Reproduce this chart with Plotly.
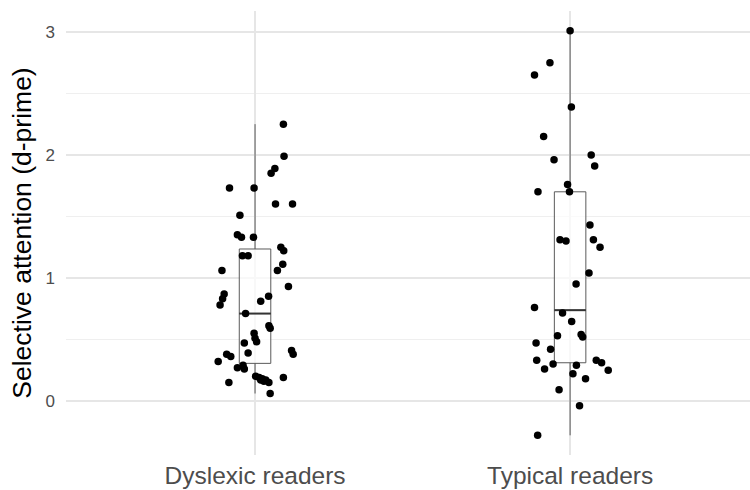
import plotly.graph_objects as go
import numpy as np

# Group labels
groups = ["Dyslexic readers", "Typical readers"]

# Selective attention scores (d-prime), one per participant
dyslexic_dprime = [2.25, 1.99, 1.89, 1.85, 1.73, 1.73, 1.60, 1.60, 1.51, 1.35,
                   1.33, 1.33, 1.25, 1.22, 1.18, 1.18, 1.11, 1.06, 1.06, 0.93,
                   0.87, 0.83, 0.78, 0.81, 0.85, 0.71, 0.61, 0.59, 0.55, 0.51,
                   0.48, 0.47, 0.39, 0.41, 0.38, 0.38, 0.36, 0.32, 0.27, 0.29,
                   0.26, 0.20, 0.19, 0.18, 0.17, 0.15, 0.15, 0.19, 0.06, 0.17,
                   0.16]
typical_dprime = [3.01, 2.75, 2.65, 2.39, 2.15, 2.00, 1.96, 1.91, 1.76, 1.70,
                  1.70, 1.43, 1.31, 1.30, 1.31, 1.25, 1.04, 0.95, 0.76, 0.715,
                  0.645, 0.53, 0.54, 0.52, 0.47, 0.42, 0.33, 0.26, 0.30, 0.29,
                  0.22, 0.18, 0.33, 0.31, 0.25, 0.09, -0.04, -0.28]

# Horizontal jitter of each point (in group units)
dyslexic_jitter = [0.090, 0.092, 0.063, 0.051, -0.081, -0.003, 0.065, 0.119, -0.048, -0.056,
                   -0.043, -0.005, 0.082, 0.091, -0.040, -0.022, 0.088, 0.071, -0.105, 0.106,
                   -0.098, -0.103, -0.111, 0.018, 0.043, -0.030, 0.044, 0.048, -0.003, 0.000,
                   0.005, -0.034, -0.022, 0.116, 0.121, -0.090, -0.077, -0.117, -0.056, -0.038,
                   -0.034, 0.002, 0.013, 0.023, 0.034, 0.044, -0.083, 0.090, 0.048, 0.018,
                   0.028]
typical_jitter = [0.000, -0.064, -0.113, 0.004, -0.084, 0.067, -0.051, 0.078, -0.008, -0.002,
                  -0.102, 0.063, -0.032, -0.013, 0.074, 0.095, 0.060, 0.019, -0.113, -0.024,
                  0.005, -0.040, 0.035, 0.040, -0.108, -0.062, -0.106, -0.081, -0.054, 0.020,
                  0.009, 0.049, 0.083, 0.100, 0.121, -0.035, 0.030, -0.103]

y_ticks = [0, 1, 2, 3]

series = [(dyslexic_dprime, dyslexic_jitter), (typical_dprime, typical_jitter)]
BOX_W = 0.1

FONT = "Liberation Sans, Arial, sans-serif"
fig = go.Figure()

for i, (vals, jit) in enumerate(series):
    fig.add_trace(go.Box(
        x=[i] * len(vals), y=vals,
        width=BOX_W, whiskerwidth=0,
        quartilemethod="inclusive",
        boxpoints=False,
        fillcolor="rgba(255,255,255,0.7)",
        line=dict(color="#5a5a5a", width=1),
        showlegend=False, hoverinfo="skip",
    ))
    # heavier median bar across the box
    med = float(np.median(vals))
    fig.add_trace(go.Scatter(
        x=[i - BOX_W / 2, i + BOX_W / 2], y=[med, med],
        mode="lines", line=dict(color="#333333", width=2),
        showlegend=False, hoverinfo="skip",
    ))

for i, (vals, jit) in enumerate(series):
    fig.add_trace(go.Scatter(
        x=[i + j for j in jit], y=vals,
        mode="markers",
        marker=dict(color="black", size=7.5),
        showlegend=False,
    ))

fig.update_layout(
    width=750, height=490,
    margin=dict(l=66, r=0, t=11, b=35),
    paper_bgcolor="white", plot_bgcolor="white",
    font=dict(family=FONT, color="#4d4d4d"),
    xaxis=dict(
        range=[-0.6, 1.571],
        tickmode="array", tickvals=[0, 1], ticktext=groups,
        tickfont=dict(size=24.5, color="#4d4d4d"),
        showgrid=True, gridcolor="#e6e6e6", gridwidth=1.5,
        zeroline=False, showline=False, ticks="",
        ticklabelstandoff=3,
    ),
    yaxis=dict(
        range=[-0.44, 3.17],
        tickmode="array", tickvals=y_ticks,
        tickfont=dict(size=17, color="#4d4d4d"),
        showgrid=True, gridcolor="#e6e6e6", gridwidth=1.5,
        minor=dict(dtick=0.5, showgrid=True, gridcolor="#efefef", gridwidth=1),
        zeroline=False, showline=False, ticks="",
        ticklabelstandoff=10,
        title=dict(text="Selective attention (d-prime)",
                   font=dict(size=26.5, color="black"), standoff=6),
        automargin=False,
    ),
)

fig.write_html("out.html")
